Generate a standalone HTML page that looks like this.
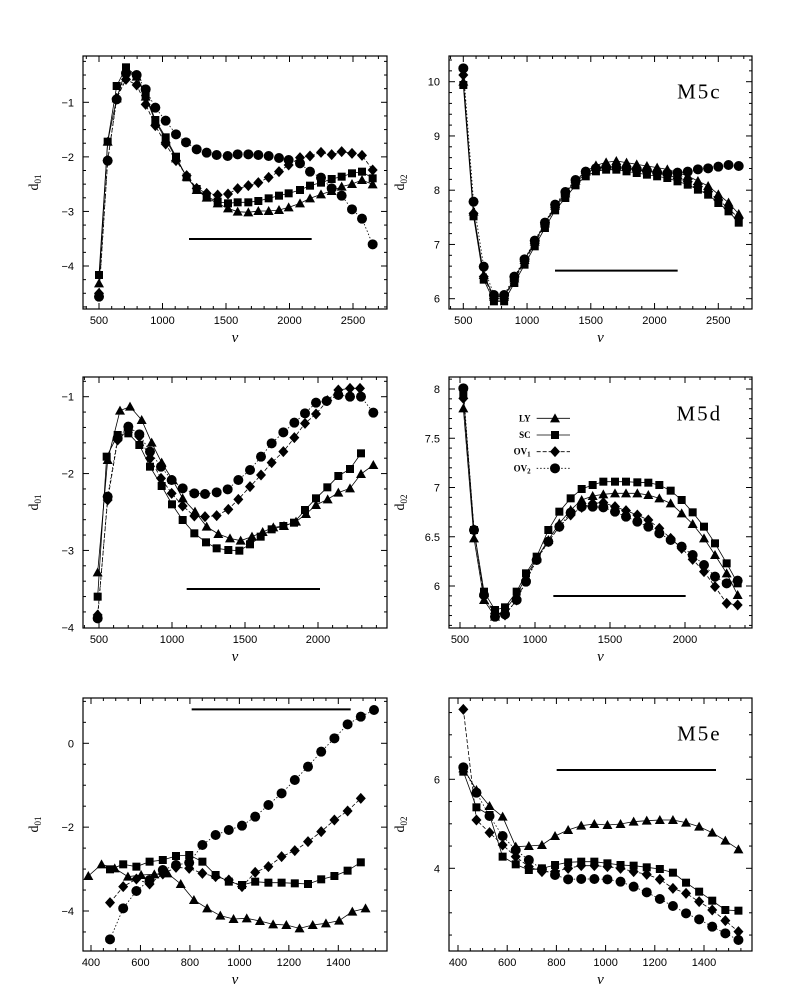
<!DOCTYPE html>
<html><head><meta charset="utf-8">
<style>html,body{margin:0;padding:0;background:#fff}svg{display:block}</style>
</head><body>
<svg id="s" width="794" height="989" xmlns="http://www.w3.org/2000/svg" font-family="Liberation Sans, sans-serif"></svg>
<script>
const S=document.getElementById('s');let h='';
function lin(a1,p1,a2,p2){return v=>p1+(v-a1)*(p2-p1)/(a2-a1);}
const panels=[
{fx:[83,387],fy:[56,309],o:[0,30],X:lin(500,99,2500,353),Y:lin(-1,102.3,-4,266),xt:[500,1000,1500,2000,2500],xm:100,xr:[400,2800],yt:[-1,-2,-3,-4],ym:0.25,yr:[-5,0],yl:'01',
 line:[567,935,627],
 ser:{
 T:[[297,760],[323,335],[350,205],[378,118],[410,140],[437,200],[466,275],[497,327],[528,385],[560,440],[590,480],[620,503],[653,520],[684,535],[713,545],[745,547],[775,543],[806,543],[837,540],[866,532],[900,520],[930,505],[963,493],[995,483],[1025,470],[1056,462],[1086,450],[1118,463]],
 Q:[[297,735],[323,335],[350,168],[378,112],[410,138],[437,195],[466,270],[497,322],[528,380],[560,442],[590,477],[620,500],[653,515],[684,520],[713,517],[745,517],[775,513],[806,505],[837,497],[866,490],[900,480],[930,467],[963,458],[995,447],[1025,440],[1056,430],[1086,425],[1118,445]],
 D:[[297,790],[323,392],[350,205],[378,148],[410,165],[437,223],[466,287],[497,342],[528,392],[560,437],[590,475],[620,490],[653,495],[684,492],[713,476],[745,467],[775,458],[806,442],[837,425],[866,405],[900,383],[930,378],[963,367],[995,374],[1025,365],[1056,370],[1086,376],[1118,420]],
 C:[[297,800],[323,392],[350,208],[378,130],[410,135],[437,178],[466,233],[497,272],[528,313],[558,337],[590,358],[620,368],[650,375],[683,378],[713,373],[745,373],[775,375],[806,378],[837,384],[866,390],[900,400],[930,425],[963,443],[995,475],[1025,497],[1056,538],[1086,566],[1118,643]]}},
{fx:[449,752],fy:[56,309],o:[400,30],X:lin(500,463.3,2500,718.3),Y:lin(10,81.7,6,298.7),xt:[500,1000,1500,2000,2500],xm:100,xr:[300,2900],yt:[10,9,8,7,6],ym:0.2,yr:[5,11],yl:'02',
 line:[465,833,722],title:['M5c',185],
 ser:{}},
{fx:[83,387],fy:[377,628],o:[0,370],X:lin(500,99,2000,318),Y:lin(-1,396.7,-4,627.3),xt:[500,1000,1500,2000],xm:100,xr:[400,2600],yt:[-1,-2,-3,-4],ym:0.2,yr:[-4.2,0],yl:'01',
 line:[560,960,657],
 ser:{
 T:[[293,607],[323,270],[360,122],[390,110],[425,150],[455,218],[485,278],[518,330],[548,385],[585,425],[620,470],[655,492],[690,505],[722,512],[756,500],[788,486],[820,472],[852,468],[888,455],[918,432],[948,405],[983,388],[1015,368],[1050,355],[1083,312],[1120,285]],
 Q:[[293,680],[320,260],[353,195],[385,190],[418,225],[450,290],[485,348],[516,403],[548,450],[583,490],[618,517],[650,535],[685,540],[718,542],[750,523],[782,500],[815,478],[850,468],[882,458],[915,420],[948,385],[982,352],[1015,318],[1050,297],[1083,250]],
 D:[[293,735],[323,390],[353,210],[385,180],[418,200],[450,265],[483,325],[515,370],[548,408],[583,438],[615,440],[650,437],[685,418],[715,388],[750,350],[783,315],[815,278],[850,245],[883,203],[915,160],[948,132],[982,92],[1015,60],[1050,55],[1080,55]],
 C:[[293,745],[323,380],[353,205],[385,170],[418,193],[450,245],[483,290],[515,330],[548,355],[583,370],[615,372],[650,367],[683,358],[715,330],[750,300],[783,260],[815,220],[850,187],[883,158],[915,130],[948,98],[980,93],[1015,75],[1050,80],[1083,80],[1120,128]]}},
{fx:[449,752],fy:[377,628],o:[400,370],X:lin(500,460,2000,685),Y:lin(8,389,6,586),xt:[500,1000,1500,2000],xm:100,xr:[400,2600],yt:[8,7.5,7,6.5,6],ym:0.1,yr:[5.5,8.2],yl:'02',
 line:[460,857,678],title:['M5d',130],legend:true,
 ser:{
 T:[[190,115],[222,505],[252,690],[285,740],[315,720],[350,675],[378,620],[410,565],[445,510],[478,460],[512,420],[545,390],[578,378],[610,373],[645,370],[678,370],[712,370],[745,375],[778,385],[812,400],[845,430],[878,462],[912,505],[945,555],[980,610],[1013,675]],
 Q:[[190,72],[222,480],[252,665],[285,720],[315,712],[350,665],[378,610],[410,560],[445,480],[478,425],[512,385],[545,357],[578,345],[610,335],[645,335],[678,335],[712,337],[745,338],[778,345],[812,362],[845,390],[878,427],[912,470],[945,520],[980,580],[1013,640]],
 D:[[190,85],[222,480],[252,680],[285,730],[315,735],[350,690],[378,630],[410,568],[445,515],[478,470],[512,435],[545,412],[578,400],[610,398],[645,410],[678,422],[712,435],[745,450],[778,475],[812,505],[845,535],[878,568],[912,605],[945,650],[980,700],[1013,705]],
 C:[[190,55],[222,480],[252,675],[285,740],[315,733],[350,690],[378,635],[410,570],[445,515],[478,470],[512,428],[545,410],[578,410],[610,412],[645,425],[678,440],[712,455],[745,470],[778,490],[812,510],[845,530],[878,555],[912,585],[945,620],[980,640],[1013,632]]}},
{fx:[83,387],fy:[698,951],o:[0,680],X:lin(400,91,1400,338.3),Y:lin(0,743.3,-4,911),xt:[400,600,800,1000,1200,1400],xm:50,xr:[350,1600],yt:[0,-2,-4],ym:0.5,yr:[-5,1.5],yl:'01',
 line:[575,1052,88],ser:{}},
{fx:[449,752],fy:[698,951],o:[400,680],X:lin(400,458,1400,704),Y:lin(6,779.3,4,868.3),xt:[400,600,800,1000,1200,1400],xm:50,xr:[350,1600],yt:[6,4],ym:0.5,yr:[2,8],yl:'02',
 line:[470,948,270],title:['M5e',160],ser:{}}
];
(function(){const xs=[];for(let i=0;i<28;i++)xs.push(190+i*30.6);
const base=[150,545,735,800,800,745,690,635,580,527,490,452,425,410,405,405,410,415,420,425,430,440,450,465,480,505,530,560];
const circ=[115,515,710,795,795,740,688,632,578,524,486,450,425,415,413,413,415,418,422,428,430,428,425,418,415,410,405,408];
const p=panels[1].ser;
p.T=xs.map((x,i)=>[x,base[i]-(i>12?12*Math.min(1,(i-12)/3):0)]);
p.Q=xs.map((x,i)=>[x,base[i]+14]);
p.D=xs.map((x,i)=>[x,base[i]+5]);
p.C=xs.map((x,i)=>[x,circ[i]]);
p.T[0][1]=155;p.Q[0][1]=165;p.D[0][1]=135;p.T[27][1]=552;p.Q[27][1]=578;p.D[27][1]=565;
})();
(function(){const p=panels[4].ser,st=39.6;
const T=[588,553,565,590,585,583,580,612,660,685,707,717,715,723,733,735,745,735,730,722,695,685];
p.T=T.map((y,i)=>[265+i*st,y]);
const Q=[568,553,560,545,540,528,525,545,585,605,615,605,608,608,610,612,598,588,572,547];
p.Q=Q.map((y,i)=>[330+i*st,y]);
const D=[668,620,597,612,582,562,565,580,590,600,620,577,560,530,512,485,455,420,393,355];
p.D=D.map((y,i)=>[330+i*st,y]);
const C=[778,685,633,600,570,555,548,495,465,450,437,410,375,340,300,260,215,175,133,110,90];
p.C=C.map((y,i)=>[330+i*st,y]);
})();
(function(){const p=panels[5].ser,st=39.3;
const T=[265,330,378,410,500,498,495,468,450,437,432,435,432,425,422,420,420,428,440,458,482,508];
const Q=[275,382,405,530,553,570,565,555,547,545,545,550,555,557,562,567,578,608,635,662,690,692];
const D=[88,420,458,495,530,560,575,575,565,557,557,560,565,575,583,598,625,640,665,690,722,755];
const C=[262,338,408,468,510,540,568,585,598,597,597,598,605,620,637,657,678,700,718,740,760,780];
p.T=T.map((y,i)=>[190+i*st,y]);p.Q=Q.map((y,i)=>[190+i*st,y]);p.D=D.map((y,i)=>[190+i*st,y]);p.C=C.map((y,i)=>[190+i*st,y]);
})();
function mk(t,x,y){
 if(t=='C')return `<circle cx="${x}" cy="${y}" r="5" fill="#000"/>`;
 if(t=='Q')return `<rect x="${x-4}" y="${y-4}" width="8" height="8" fill="#000"/>`;
 if(t=='D')return `<polygon points="${x},${y-5.5} ${x+5},${y} ${x},${y+5.5} ${x-5},${y}" fill="#000"/>`;
 return `<polygon points="${x},${y-5} ${x+5},${y+4} ${x-5},${y+4}" fill="#000"/>`;
}
const dash={T:'',Q:'',D:'stroke-dasharray="4,2"',C:'stroke-dasharray="1.5,2"'};
function fmt(v){return (v<0?'\u2212':'')+Math.abs(v);}
panels.forEach(P=>{
 const [x0,x1]=P.fx,[y0,y1]=P.fy,ox=P.o[0],oy=P.o[1];
 h+=`<g stroke="#000" stroke-width="1" fill="none">`;
 for(let v=P.xr[0];v<=P.xr[1]+1e-6;v+=P.xm){const x=P.X(v);if(x<x0+1||x>x1-1)continue;
  const maj=P.xt.some(t=>Math.abs(t-v)<1e-6);const L=maj?6:3;
  h+=`<line x1="${x}" y1="${y1}" x2="${x}" y2="${y1-L}"/><line x1="${x}" y1="${y0}" x2="${x}" y2="${y0+L}"/>`;}
 for(let v=P.yr[0];v<=P.yr[1]+1e-6;v+=P.ym){v=Math.round(v*1000)/1000;const y=P.Y(v);if(y<y0+1||y>y1-1)continue;
  const maj=P.yt.some(t=>Math.abs(t-v)<1e-6);const L=maj?6:3;
  h+=`<line x1="${x0}" y1="${y}" x2="${x0+L}" y2="${y}"/><line x1="${x1}" y1="${y}" x2="${x1-L}" y2="${y}"/>`;}
 h+=`</g>`;
 P.xt.forEach(v=>{h+=`<text x="${P.X(v)}" y="${y1+15}" font-size="11" text-anchor="middle">${v}</text>`;});
 P.yt.forEach(v=>{h+=`<text x="${x0-9}" y="${P.Y(v)+4}" font-size="11" text-anchor="end">${fmt(v)}</text>`;});
 const cx=(x0+x1)/2,cy=(y0+y1)/2;
 h+=`<text x="${cx}" y="${y1+33}" font-size="15" font-style="italic" font-family="Liberation Serif, serif" text-anchor="middle">ν</text>`;
 h+=`<text transform="translate(${x0-45},${cy}) rotate(-90)" font-size="14" font-family="Liberation Serif, serif" text-anchor="middle">d<tspan font-size="9" dy="3">${P.yl}</tspan></text>`;
 h+=`<line x1="${ox+P.line[0]/3}" x2="${ox+P.line[1]/3}" y1="${oy+P.line[2]/3}" y2="${oy+P.line[2]/3}" stroke="#000" stroke-width="2"/>`;
 if(P.title)h+=`<text x="${ox+898/3}" y="${oy+P.title[1]/3+7}" font-size="21" letter-spacing="2" font-family="Liberation Serif, serif" text-anchor="middle">${P.title[0]}</text>`;
 ['T','Q','D','C'].forEach(t=>{const a=P.ser[t];if(!a)return;
  const pts=a.map(p=>[ox+p[0]/3,oy+p[1]/3]);
  h+=`<polyline points="${pts.map(p=>p.join(',')).join(' ')}" fill="none" stroke="#000" stroke-width="0.8" ${dash[t]}/>`;
  pts.forEach(p=>h+=mk(t,p[0],p[1]));});
 if(P.legend){const labs=[['T','LY'],['Q','SC'],['D','OV<tspan font-size="7" dy="2">1</tspan>'],['C','OV<tspan font-size="7" dy="2">2</tspan>']];
  labs.forEach((l,i)=>{const y=oy+(145+50*i)/3;
   h+=`<text x="${ox+392/3}" y="${y+3}" font-size="9" font-weight="bold" font-family="Liberation Serif, serif" text-anchor="end">${l[1]}</text>`;
   h+=`<line x1="${ox+410/3}" x2="${ox+510/3}" y1="${y}" y2="${y}" stroke="#000" stroke-width="0.8" ${dash[l[0]]}/>`;
   h+=mk(l[0],ox+465/3,y);});}
 h+=`<rect x="${x0}" y="${y0}" width="${x1-x0}" height="${y1-y0}" fill="none" stroke="#000" stroke-width="1.2"/>`;
});
S.innerHTML=h;
</script>
</body></html>
